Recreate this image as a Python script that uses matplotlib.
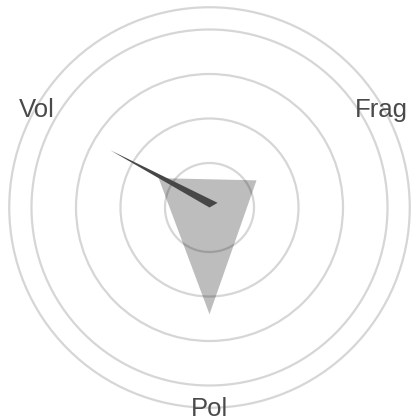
import matplotlib
matplotlib.use("Agg")
import matplotlib.pyplot as plt
from matplotlib.patches import Circle, Polygon
import numpy as np

# radar with three axes, values in ring units
labels = ["Frag", "Vol", "Pol"]
angles_deg = [30, 150, 270]
values = [1.22, 1.32, 2.40]
rings = [1, 2, 3, 4, 4.5]

# needle (resultant vector)
needle_len = 2.57
needle_angle = 150

plt.rcParams['font.family'] = ['Liberation Sans', 'DejaVu Sans']

fig = plt.figure(figsize=(4.12, 4.2), dpi=100)
ax = fig.add_axes([0, 0, 1, 1])
unit = 44.5  # pixels per ring
cx, cy = 209.5, 420 - 207.5
ax.set_xlim(-cx / unit, (412 - cx) / unit)
ax.set_ylim(-cy / unit, (420 - cy) / unit)
ax.set_aspect('equal')
ax.axis('off')

for r in rings:
    ax.add_patch(Circle((0, 0), r, fill=False, ec='#d6d6d6', lw=1.6, zorder=1))

th = np.radians(angles_deg)
xs = np.array(values) * np.cos(th)
ys = np.array(values) * np.sin(th)
ax.add_patch(Polygon(np.column_stack([xs, ys]), closed=True, fc='black',
                     ec='none', alpha=0.26, zorder=2))

# thin wedge from centre out to the needle tip
a = np.radians(needle_angle)
tip = (needle_len * np.cos(a), needle_len * np.sin(a))
b = np.radians(needle_angle - 120)
base2 = (0.21 * np.cos(b), 0.21 * np.sin(b))
ax.add_patch(Polygon([(0, 0), tip, base2], closed=True, fc='#474747',
                     ec='none', zorder=3))

# labels centred (by cap height) on the outer ring
fs = 18.5
half_cap = fs * 100 / 72 * 0.716 / 2 / unit
label_r = 4.47
for lab, ang in zip(labels, angles_deg):
    t = np.radians(ang)
    ax.text(label_r * np.cos(t), label_r * np.sin(t) - half_cap, lab,
            ha='center', va='baseline', fontsize=fs, color='#4a4a4a', zorder=4)

fig.savefig("out.png", dpi=100)
